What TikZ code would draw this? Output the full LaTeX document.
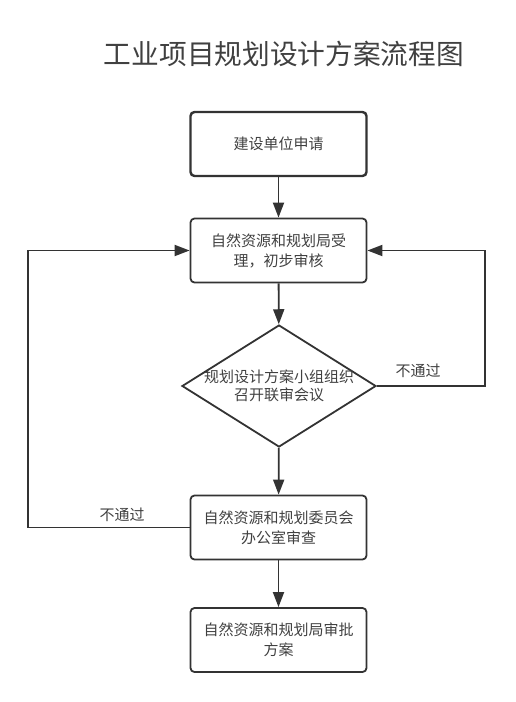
\documentclass[tikz,border=0pt]{standalone}
\usepackage{fontspec}
\setmainfont{Noto Sans CJK SC}
\usepackage{tikz}
\usetikzlibrary{arrows.meta,shapes.geometric,positioning}
\definecolor{linegray}{HTML}{333333}
\definecolor{textgray}{HTML}{404040}

\begin{document}
\begin{tikzpicture}[x=1pt,y=-1pt,
    stepbox/.style={draw=linegray, line width=1.8pt, rounded corners=4pt,
        minimum width=176pt, minimum height=64pt, align=center,
        text=textgray, font=\fontsize{15}{20}\selectfont},
    decision/.style={draw=linegray, line width=1.8pt, diamond,
        minimum width=194pt, minimum height=122pt, inner sep=0pt},
    flow/.style={draw=linegray, line width=1.8pt,
        -{Triangle[length=15pt,width=11pt]}},
    passlabel/.style={text=textgray, font=\fontsize{15}{18}\selectfont}]
    \useasboundingbox (0,0) rectangle (516,702);
    % title
    \node[text=textgray, font=\fontsize{27.7}{30}\selectfont] (title) at (284,54) {工业项目规划设计方案流程图};
    % steps
    \node[stepbox, line width=2.4pt] (apply) at (278.5,144) {建设单位申请};
    \node[stepbox] (accept) at (278.5,250.5) {自然资源和规划局受\\理，初步审核};
    \node[decision] (review) at (279,386) {};
    \node[align=center, text=textgray, font=\fontsize{15}{18.5}\selectfont] (reviewtext) at (review) {规划设计方案小组组织\\召开联审会议};
    \node[stepbox] (office) at (278.5,527.5) {自然资源和规划委员会\\办公室审查};
    \node[stepbox] (approve) at (278.5,640) {自然资源和规划局审批\\方案};
    % turning points of the loops
    \coordinate (rloop) at (485,0);
    \coordinate (lloop) at (28,0);
    % arrows
    \draw[flow] (apply) -- (accept);
    \draw[flow] (accept) -- (review);
    \draw[flow] (review) -- (office);
    \draw[flow] (office) -- (approve);
    \draw[flow] (review.east) -- (review.east -| rloop) |- (accept.east);
    \draw[flow] (office.west) -- (office.west -| lloop) |- (accept.west);
    \node[passlabel] (failright) at (418,371) {不通过};
    \node[passlabel] (failleft) at (122,515) {不通过};
\end{tikzpicture}
\end{document}
